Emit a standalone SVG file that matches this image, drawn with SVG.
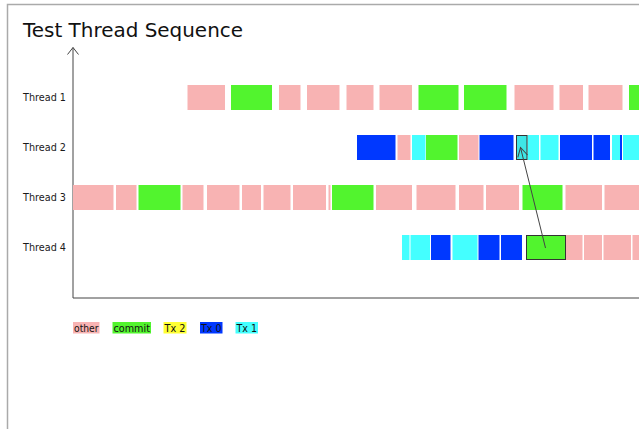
<svg xmlns="http://www.w3.org/2000/svg" width="639" height="429" viewBox="0 0 639 429">
<style>
.o{fill:#f8b3b3}
.c{fill:#52f42e}
.b{fill:#0038ff}
.t{fill:#44ffff}
.y{fill:#ffff33}
.hl{stroke:#333;stroke-width:1}
.lbl{font-family:"DejaVu Sans","Liberation Sans",sans-serif;font-size:10px;fill:#1a1a1a}
.leg{font-family:"DejaVu Sans","Liberation Sans",sans-serif;font-size:10px;fill:#111}
.ax{stroke:#444;stroke-width:1;fill:none}
</style>
<defs>
<marker id="ah" markerWidth="12" markerHeight="12" refX="10" refY="6" orient="auto" markerUnits="userSpaceOnUse">
<path d="M1,1 L10,6 L1,11" fill="none" stroke="#444" stroke-width="1"/>
</marker>
</defs>
<rect width="639" height="429" fill="#fff"/>
<path d="M7.5,429 V4.5 H639" fill="none" stroke="#aaa" stroke-width="1.5"/>
<text x="23" y="37" font-family="DejaVu Sans,Liberation Sans,sans-serif" font-size="20" fill="#111" textLength="220" lengthAdjust="spacingAndGlyphs">Test Thread Sequence</text>
<g id="axes">
<path class="ax" d="M73,47.5 V298 H639"/>
<path class="ax" d="M67.5,54.5 L73,47.5 L78.5,54.5"/>
</g>
<g id="labels">
<text class="lbl" x="23" y="101" textLength="43" lengthAdjust="spacingAndGlyphs">Thread 1</text>
<text class="lbl" x="23" y="151" textLength="43" lengthAdjust="spacingAndGlyphs">Thread 2</text>
<text class="lbl" x="23" y="201" textLength="43" lengthAdjust="spacingAndGlyphs">Thread 3</text>
<text class="lbl" x="23" y="251" textLength="43" lengthAdjust="spacingAndGlyphs">Thread 4</text>
</g>
<g id="thread1">
<rect class="o" x="187.5" y="85" width="37.5" height="25"/>
<rect class="c" x="231" y="85" width="41" height="25"/>
<rect class="o" x="279" y="85" width="21.5" height="25"/>
<rect class="o" x="307" y="85" width="32.5" height="25"/>
<rect class="o" x="346.5" y="85" width="27" height="25"/>
<rect class="o" x="379.5" y="85" width="32.5" height="25"/>
<rect class="c" x="418.5" y="85" width="40" height="25"/>
<rect class="c" x="464" y="85" width="42.5" height="25"/>
<rect class="o" x="514.5" y="85" width="39" height="25"/>
<rect class="o" x="559.5" y="85" width="23.5" height="25"/>
<rect class="o" x="588.5" y="85" width="34" height="25"/>
<rect class="c" x="629" y="85" width="10" height="25"/>
</g>
<g id="thread2">
<rect class="b" x="357" y="135" width="38.5" height="25"/>
<rect class="o" x="397.5" y="135" width="13" height="25"/>
<rect class="t" x="412" y="135" width="13.5" height="25"/>
<rect class="c" x="426" y="135" width="31.5" height="25"/>
<rect class="o" x="459" y="135" width="19.5" height="25"/>
<rect class="b" x="479.5" y="135" width="34" height="25"/>
<rect class="t" x="527.5" y="135" width="11.5" height="25"/>
<rect class="t" x="540.5" y="135" width="18" height="25"/>
<rect class="b" x="560" y="135" width="32" height="25"/>
<rect class="b" x="593.5" y="135" width="16.5" height="25"/>
<rect class="t" x="612" y="135" width="8" height="25"/>
<rect class="b" x="620" y="135" width="2" height="25"/>
<rect class="t" x="623" y="135" width="16" height="25"/>
<rect class="t hl" x="516.5" y="135.5" width="10.5" height="24" style="fill:#3ee6e6"/>
</g>
<g id="thread3">
<rect class="o" x="73" y="185" width="40.5" height="25"/>
<rect class="o" x="116" y="185" width="20.5" height="25"/>
<rect class="c" x="138.5" y="185" width="42" height="25"/>
<rect class="o" x="182.5" y="185" width="21" height="25"/>
<rect class="o" x="207" y="185" width="32.5" height="25"/>
<rect class="o" x="242" y="185" width="19" height="25"/>
<rect class="o" x="263.5" y="185" width="27" height="25"/>
<rect class="o" x="293" y="185" width="33" height="25"/>
<rect class="o" x="328.5" y="185" width="2" height="25"/>
<rect class="c" x="332" y="185" width="41.5" height="25"/>
<rect class="o" x="376" y="185" width="36" height="25"/>
<rect class="o" x="416.5" y="185" width="39" height="25"/>
<rect class="o" x="459" y="185" width="24.5" height="25"/>
<rect class="o" x="486" y="185" width="33" height="25"/>
<rect class="c" x="522.5" y="185" width="40" height="25"/>
<rect class="o" x="565.5" y="185" width="36.5" height="25"/>
<rect class="o" x="604.5" y="185" width="34.5" height="25"/>
</g>
<g id="thread4">
<rect class="t" x="402" y="235" width="7.5" height="25"/>
<rect class="t" x="410.5" y="235" width="19.5" height="25"/>
<rect class="b" x="431" y="235" width="19.5" height="25"/>
<rect class="t" x="452.5" y="235" width="25" height="25"/>
<rect class="b" x="478.5" y="235" width="21" height="25"/>
<rect class="b" x="501" y="235" width="21" height="25"/>
<rect class="o" x="566" y="235" width="16.5" height="25"/>
<rect class="o" x="584" y="235" width="18" height="25"/>
<rect class="o" x="603.5" y="235" width="27.5" height="25"/>
<rect class="o" x="632.5" y="235" width="6.5" height="25"/>
<rect class="c hl" x="526.5" y="235.5" width="39" height="24"/>
</g>
<g id="connectors">
<line x1="545.5" y1="248" x2="520.5" y2="147.5" stroke="#444" stroke-width="1" marker-end="url(#ah)"/>
</g>
<g id="legend">
<rect class="o" x="73" y="322" width="26.5" height="11.5"/>
<text class="leg" x="74" y="331.5" textLength="24.5" lengthAdjust="spacingAndGlyphs">other</text>
<rect class="c" x="112.5" y="322" width="38.5" height="11.5"/>
<text class="leg" x="113.5" y="331.5" textLength="36.5" lengthAdjust="spacingAndGlyphs">commit</text>
<rect class="y" x="163.5" y="322" width="23" height="11.5"/>
<text class="leg" x="164.5" y="331.5" textLength="21" lengthAdjust="spacingAndGlyphs">Tx 2</text>
<rect class="b" x="200" y="322" width="22.5" height="11.5"/>
<text class="leg" x="201" y="331.5" textLength="20.5" lengthAdjust="spacingAndGlyphs">Tx 0</text>
<rect class="t" x="235.5" y="322" width="22.5" height="11.5"/>
<text class="leg" x="236.5" y="331.5" textLength="20.5" lengthAdjust="spacingAndGlyphs">Tx 1</text>
</g>
</svg>
